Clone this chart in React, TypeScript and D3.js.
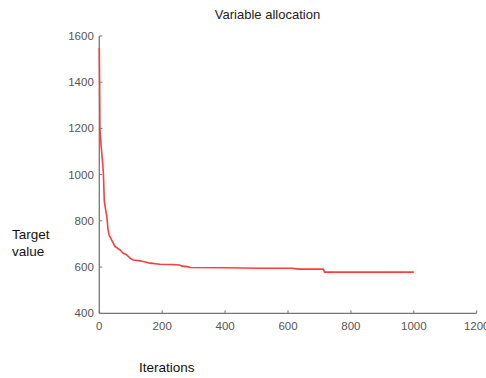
import { useMemo } from "react";
import * as d3 from "d3";

const iterations = [
  0, 1, 2, 5, 10, 13, 16, 20, 24, 28, 31, 39, 50, 60, 66, 76, 87, 98, 108, 125,
  140, 161, 193, 230, 255, 262, 280, 289, 400, 512, 612, 632, 713, 716, 1000,
];
const targetValues = [
  1548, 1400, 1200, 1137, 1060, 1007, 884, 850, 818, 760, 739, 718, 689, 680,
  674, 660, 653, 638, 631, 628, 624, 617, 612, 611, 609, 604, 602, 598, 597,
  595, 595, 591, 591, 578, 578,
];
const xTicks = [0, 200, 400, 600, 800, 1000, 1200];
const yTicks = [400, 600, 800, 1000, 1200, 1400, 1600];

const WIDTH = 486;
const HEIGHT = 378;
const LEFT = 99.3;
const RIGHT = 476.7;
const TOP = 36;
const BOTTOM = 313.3;

const FONT = "'Liberation Sans', Arial, sans-serif";

export default function App() {
  const x = useMemo(() => d3.scaleLinear().domain([0, 1200]).range([LEFT, RIGHT]), []);
  const y = useMemo(() => d3.scaleLinear().domain([400, 1600]).range([BOTTOM, TOP]), []);

  const path = useMemo(() => {
    const line = d3
      .line<number>()
      .x((d) => x(d))
      .y((_, i) => y(targetValues[i]));
    return line(iterations) || undefined;
  }, [x, y]);

  return (
    <svg
      width={WIDTH}
      height={HEIGHT}
      style={{ position: "fixed", left: 0, top: 0, background: "#fff" }}
      fontFamily={FONT}
    >
      <text x={267.5} y={19} textAnchor="middle" fontSize={13} fill="#222">
        Variable allocation
      </text>

      {/* axes */}
      <line x1={LEFT} x2={LEFT} y1={TOP} y2={BOTTOM} stroke="#777" strokeWidth={1.3} />
      <line x1={LEFT} x2={RIGHT} y1={BOTTOM} y2={BOTTOM} stroke="#777" strokeWidth={1.3} />

      {yTicks.map((t) => (
        <g key={"y" + t}>
          <line x1={LEFT} x2={LEFT + 3} y1={y(t)} y2={y(t)} stroke="#777" />
          <text
            x={LEFT - 5.5}
            y={y(t) + 4}
            textAnchor="end"
            fontSize={11.5}
            fill="#555"
          >
            {t}
          </text>
        </g>
      ))}
      {xTicks.map((t) => (
        <g key={"x" + t}>
          <line x1={x(t)} x2={x(t)} y1={BOTTOM} y2={BOTTOM - 3} stroke="#777" />
          <text x={x(t)} y={330} textAnchor="middle" fontSize={11.5} fill="#555">
            {t}
          </text>
        </g>
      ))}

      <path d={path} fill="none" stroke="#ff3d3d" strokeWidth={1.6} strokeLinejoin="round" />

      <text x={12} y={239} fontSize={13.5} fill="#111">
        Target
      </text>
      <text x={12} y={256} fontSize={13.5} fill="#111">
        value
      </text>
      <text x={139} y={372} fontSize={13.5} fill="#111">
        Iterations
      </text>
    </svg>
  );
}
